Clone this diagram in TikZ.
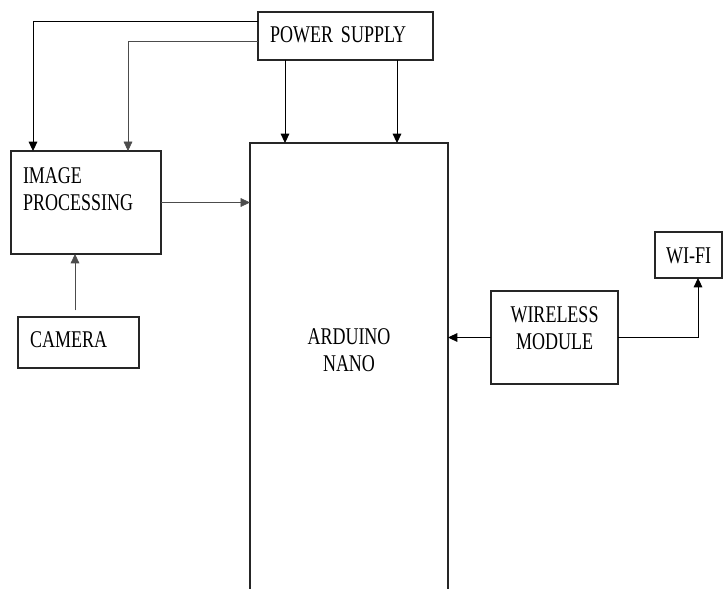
\documentclass[tikz,border=0pt]{standalone}
\usepackage{fontspec}
\setmainfont{Liberation Serif}[FakeStretch=0.75, WordSpace=0.75]
\usetikzlibrary{arrows.meta,calc,positioning}

\begin{document}
\begin{tikzpicture}[x=0.75pt,y=-0.75pt,
every node/.style={font=\fontsize{18pt}{20.5pt}\selectfont, outer sep=0pt},
block/.style={draw=black!85, line width=0.8pt, inner xsep=9pt, inner ysep=0pt, align=left, anchor=north west},
conn/.style={line width=0.7pt, -{Triangle[length=7pt,width=6.5pt]}},
thin conn/.style={conn, line width=0.45pt, draw=black!70}]
\useasboundingbox (0,0) rectangle (723,588);
\clip (0,0) rectangle (723,588);

\node[block, text width=113.25pt, text height=23.25pt, text depth=12.75pt] (pwr) at (258,12) {POWER SUPPLY};
\node[block, text width=94.5pt, text height=24pt, text depth=53.25pt] (improc) at (11,151) {IMAGE\\PROCESSING};
\node[block, text width=72.75pt, text height=22.5pt, text depth=15.75pt] (cam) at (18,317) {CAMERA};
\node[block, align=center, text width=130.5pt, text height=150.75pt, text depth=207pt] (ard) at (250,143) {ARDUINO\\NANO};
\node[block, align=center, text width=77.25pt, text height=23.25pt, text depth=46.5pt] (wless) at (491,291) {WIRELESS\\MODULE};
\node[block, align=center, inner xsep=4pt, text width=42.25pt, text height=23.25pt, text depth=11.25pt] (wifi) at (655,232) {WI-FI};

% power lines
\draw[conn] ($(pwr.north west)+(0,9)$) -| ($(improc.north west)+(22,0)$);
\draw[thin conn] ($(pwr.north west)+(0,29)$) -| ($(improc.north west)+(117,0)$);
\foreach \dx [count=\k] in {27,139} {
\coordinate (pin\k) at ($(pwr.south west)+(\dx,0)$);
\draw[conn] (pin\k) -- (pin\k |- ard.north);
}

% signal lines
\coordinate (camout) at ($(cam.north)+(-3.5,0)$);
\draw[thin conn, line width=0.55pt, shorten <=5pt] (camout) -- (camout |- improc.south);
\draw[thin conn] (improc.east) -- (improc.east -| ard.west);
\draw[conn] (wless.west) -- (wless.west -| ard.east);
\draw[conn] (wless.east) -| ($(wifi.south)+(9.5,0)$);
\end{tikzpicture}
\end{document}
